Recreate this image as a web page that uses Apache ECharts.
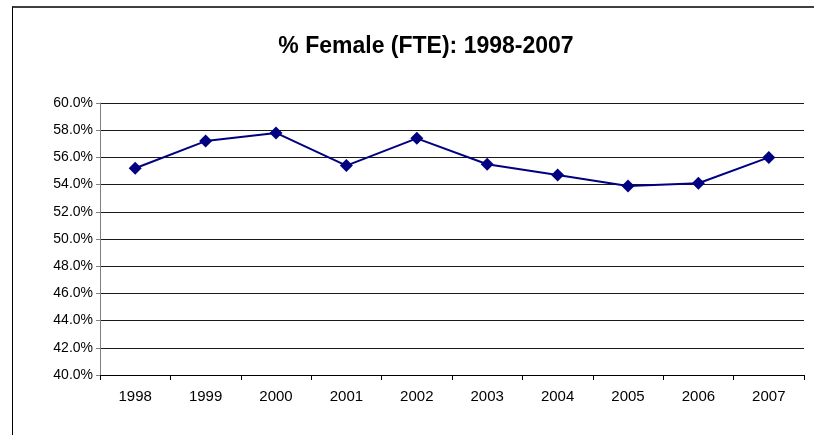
<!DOCTYPE html>
<html>
<head>
<meta charset="utf-8">
<script src="https://cdn.jsdelivr.net/npm/echarts@6/dist/echarts.min.js"></script>
<style>
html,body{margin:0;padding:0;background:#fff;}
#frame{position:absolute;left:12px;top:6px;width:810px;height:440px;border-left:1px solid #000;border-top:2px solid #404040;box-sizing:border-box;}
#chart{position:absolute;left:0;top:0;width:814px;height:435px;}
</style>
</head>
<body>
<div id="frame"></div>
<div id="chart"></div>
<script>
var titleText = '% Female (FTE): 1998-2007';
var years = ['1998','1999','2000','2001','2002','2003','2004','2005','2006','2007'];
var femalePct = [55.2, 57.2, 57.8, 55.4, 57.4, 55.5, 54.7, 53.9, 54.1, 56.0];
var yMin = 40, yMax = 60, yStep = 2;

var chart = echarts.init(document.getElementById('chart'), null, {renderer:'canvas'});
chart.setOption({
  animation:false,
  backgroundColor:'transparent',
  title:{
    text:titleText,
    left:421, top:30, textAlign:'center',
    textStyle:{fontFamily:'Liberation Sans, Arial, sans-serif', fontWeight:'bold', fontSize:23, color:'#000'}
  },
  grid:{left:100, right:10, top:103, bottom:60, containLabel:false},
  xAxis:{
    type:'category', data:years, boundaryGap:true,
    axisLine:{show:true, lineStyle:{color:'#000', width:1}},
    axisTick:{show:true, alignWithLabel:false, length:5, lineStyle:{color:'#000'}},
    axisLabel:{color:'#000', fontFamily:'Liberation Sans, Arial, sans-serif', fontSize:15, margin:14},
    splitLine:{show:false}
  },
  yAxis:{
    type:'value', min:yMin, max:yMax, interval:yStep,
    axisLine:{show:true, lineStyle:{color:'#808080', width:1}},
    axisTick:{show:true, length:4, lineStyle:{color:'#808080'}},
    axisLabel:{color:'#000', fontFamily:'Liberation Sans, Arial, sans-serif', fontSize:14, margin:7,
      formatter:function(v){return v.toFixed(1)+'%';}},
    splitLine:{show:true, lineStyle:{color:'#1a1a1a', width:1}}
  },
  series:[{
    type:'line', data:femalePct,
    symbol:'diamond', symbolSize:13,
    lineStyle:{color:'#000080', width:2},
    itemStyle:{color:'#000080'}
  }]
});
</script>
</body>
</html>
